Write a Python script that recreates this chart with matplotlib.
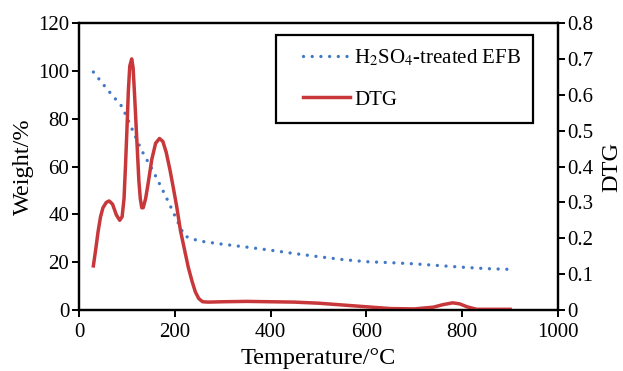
import matplotlib.pyplot as plt
from matplotlib.patches import Rectangle

plt.rcParams['font.family'] = ['Liberation Serif', 'DejaVu Serif']
plt.rcParams['mathtext.fontset'] = 'stix'

# weight loss curve (left axis)
temp_w = [30, 60, 90, 110, 130, 155, 180, 200, 220, 240, 260, 300, 350, 400,
          450, 500, 550, 600, 650, 700, 750, 800, 850, 900]
weight = [99.5, 92, 85, 76, 67, 58, 48, 39.5, 31, 29.5, 28.6, 27.5, 26.3, 25,
          23.6, 22.3, 21.1, 20.2, 19.8, 19.3, 18.6, 17.9, 17.3, 17]

# DTG curve (right axis)
temp_d = [30, 35, 40, 45, 50, 57, 63, 70, 78, 85, 90, 94, 97, 100, 103, 106,
          110, 113, 116, 119, 122, 125, 128, 131, 134, 139, 144, 152, 160, 168,
          175, 182, 190, 197, 204, 212, 220, 228, 236, 243, 250, 258, 270, 300,
          350, 400, 450, 500, 550, 600, 650, 700, 740, 760, 780, 795, 810, 830,
          860, 900]
dtg = [0.123, 0.17, 0.22, 0.26, 0.285, 0.30, 0.304, 0.295, 0.265, 0.25, 0.26,
       0.31, 0.40, 0.50, 0.61, 0.68, 0.70, 0.675, 0.60, 0.52, 0.44, 0.36,
       0.31, 0.285, 0.285, 0.31, 0.35, 0.42, 0.465, 0.478, 0.47, 0.44, 0.39,
       0.34, 0.288, 0.22, 0.17, 0.12, 0.08, 0.05, 0.032, 0.023, 0.022, 0.023,
       0.024, 0.023, 0.022, 0.019, 0.014, 0.009, 0.004, 0.003, 0.008, 0.015,
       0.02, 0.017, 0.009, 0.002, 0.002, 0.002]

fig = plt.figure(figsize=(6.23, 3.71), dpi=100)
ax = fig.add_axes([0.1268, 0.1644, 0.7689, 0.7736])
ax2 = ax.twinx()

l1, = ax.plot(temp_w, weight, color='#4279c6', linestyle=(0, (0.01, 2.6)),
              linewidth=2.4, dash_capstyle='round', label='H$_2$SO$_4$-treated EFB')
l2, = ax2.plot(temp_d, dtg, color='#c8383a', linewidth=2.5, label='DTG')

ax.set_xlim(0, 1000)
ax.set_ylim(0, 120)
ax2.set_ylim(0, 0.8)
ax.set_xticks([0, 200, 400, 600, 800, 1000])
ax.set_yticks(range(0, 121, 20))
ax2.set_yticks([0, 0.1, 0.2, 0.3, 0.4, 0.5, 0.6, 0.7, 0.8])
ax2.set_yticklabels(['0', '0.1', '0.2', '0.3', '0.4', '0.5', '0.6', '0.7', '0.8'])

for a in (ax, ax2):
    a.tick_params(labelsize=15, width=1.4, length=5, direction='out', pad=2)
    for s in a.spines.values():
        s.set_linewidth(1.6)
ax.tick_params(axis='x', pad=4)

ax.set_xlabel('Temperature/°C', fontsize=17.5, labelpad=5)
ax.set_ylabel('Weight/%', fontsize=17.5, labelpad=3)
ax2.set_ylabel('DTG', fontsize=17.5, labelpad=5)

# legend box drawn by hand so the inner padding can match
ax2.add_patch(Rectangle((0.411, 0.652), 0.537, 0.306, transform=ax2.transAxes,
                        facecolor='white', edgecolor='black', linewidth=1.6,
                        zorder=4))
leg = ax2.legend(handles=[l1, l2], loc='upper left', bbox_to_anchor=(0.468, 0.915),
                 fontsize=15, frameon=False, handlelength=2.25,
                 labelspacing=1.05, borderpad=0, handletextpad=0.2,
                 borderaxespad=0)
leg.set_zorder(5)

fig.savefig('out.png', dpi=100)
